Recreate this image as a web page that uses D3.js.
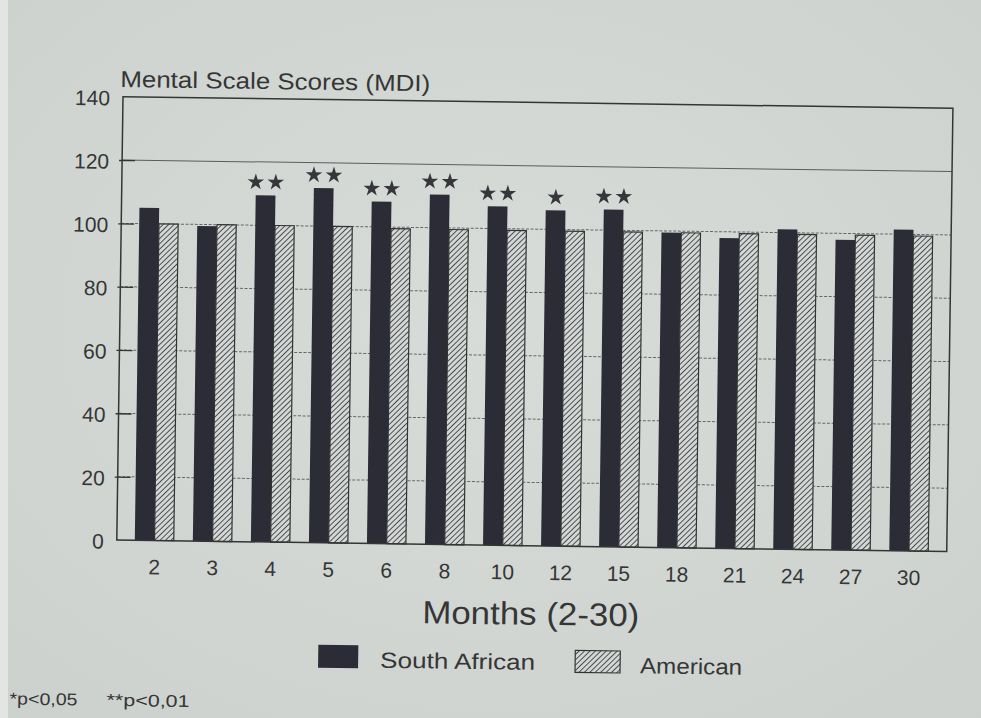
<!DOCTYPE html>
<html>
<head>
<meta charset="utf-8">
<script src="https://cdn.jsdelivr.net/npm/d3@7/dist/d3.min.js"></script>
<style>
  html, body { margin: 0; padding: 0; background: #d3d7d4; }
  svg { display: block; }
  text { font-family: "Liberation Sans", Arial, sans-serif; fill: #363636; }
</style>
</head>
<body>
<svg id="chart" width="981" height="718"></svg>
<script>
// Bayley Mental Scale scores (MDI) by age in months
const months = ["2", "3", "4", "5", "6", "8", "10", "12", "15", "18", "21", "24", "27", "30"];
const southAfrican = [105, 99.5, 109.5, 112, 108, 110.5, 107, 106, 106.5, 99.5, 98, 101, 98, 101.5];
const american = [100, 100, 100, 100, 99.5, 99.5, 99.5, 99.5, 99.5, 99.5, 99.5, 99.5, 99.5, 99.5];
const significance = ["", "", "**", "**", "**", "**", "**", "*", "**", "", "", "", "", ""];
const yTicks = [0, 20, 40, 60, 80, 100, 120, 140];
const seriesNames = ["South African", "American"];

const W = 981, H = 718;
const plot = { left: 123, right: 953, top: 96.7, bottom: 540 };

const svg = d3.select("#chart");

// paper background
const defs = svg.append("defs");
const bg = defs.append("radialGradient").attr("id", "paper")
  .attr("cx", "50%").attr("cy", "45%").attr("r", "75%");
bg.append("stop").attr("offset", "0%").attr("stop-color", "#d8dcd9");
bg.append("stop").attr("offset", "100%").attr("stop-color", "#ccd1ce");
svg.append("rect").attr("width", W).attr("height", H).attr("fill", "url(#paper)");
svg.append("rect").attr("width", 8).attr("height", H).attr("fill", "#e2e5e3");

// diagonal hatch for the American series
const hatch = defs.append("pattern").attr("id", "hatch")
  .attr("patternUnits", "userSpaceOnUse")
  .attr("width", 3.8).attr("height", 3.8)
  .attr("patternTransform", "rotate(45)");
hatch.append("rect").attr("width", 3.8).attr("height", 3.8).attr("fill", "#d3d7d5");
hatch.append("line").attr("x1", 0).attr("y1", 0).attr("x2", 0).attr("y2", 3.8)
  .attr("stroke", "#38383c").attr("stroke-width", 1.7);

// the printed page sits slightly tilted
const g = svg.append("g").attr("transform", `rotate(0.8, ${plot.left}, ${plot.top})`);

const x0 = d3.scaleBand().domain(months)
  .range([plot.left, plot.right]).paddingInner(0.32).paddingOuter(0.31);
const x1 = d3.scaleBand().domain(seriesNames).range([0, x0.bandwidth()]);
const y = d3.scaleLinear().domain([0, 140]).range([plot.bottom, plot.top]);

// gridlines
g.append("g").selectAll("line")
  .data(yTicks.filter(t => t > 0 && t < 140))
  .join("line")
  .attr("x1", plot.left).attr("x2", plot.right)
  .attr("y1", d => y(d)).attr("y2", d => y(d))
  .attr("stroke", d => d === 120 ? "#5c5c5c" : "#666")
  .attr("stroke-width", 1)
  .attr("stroke-dasharray", d => d === 120 ? null : "3,1.6");

// y axis with inward ticks
const yAxis = g.append("g").attr("transform", `translate(${plot.left},0)`)
  .call(d3.axisLeft(y).tickValues(yTicks).tickSizeInner(-13).tickSizeOuter(0).tickPadding(13));
yAxis.select(".domain").remove();
yAxis.selectAll(".tick line").attr("x1", -3).attr("stroke", "#333").attr("stroke-width", 1.3)
  .filter(d => d === 0 || d === 140).remove();
yAxis.selectAll(".tick text").attr("font-size", 21).attr("fill", "#3a3a3a")
  .attr("font-family", "'Liberation Sans', Arial, sans-serif").attr("dy", "0.4em");

// bars
const groups = g.append("g").selectAll("g")
  .data(months.map((m, i) => ({ m, sa: southAfrican[i], am: american[i], sig: significance[i] })))
  .join("g")
  .attr("transform", d => `translate(${x0(d.m)},0)`);

groups.append("rect")
  .attr("x", x1("South African")).attr("width", x1.bandwidth())
  .attr("y", d => y(d.sa)).attr("height", d => y(0) - y(d.sa))
  .attr("fill", "#2b2c35");

groups.append("rect")
  .attr("x", x1("American")).attr("width", x1.bandwidth() - 0.5)
  .attr("y", d => y(d.am)).attr("height", d => y(0) - y(d.am))
  .attr("fill", "url(#hatch)").attr("stroke", "#333").attr("stroke-width", 1.2);

// significance stars over the South African bars
const star = d3.symbol().type(d3.symbolStar).size(85);
groups.each(function (d) {
  const n = d.sig.length;
  const cx = x1("South African") + x1.bandwidth() / 2;
  for (let k = 0; k < n; k++) {
    const dx = n === 2 ? (k === 0 ? -10 : 10) : 0;
    d3.select(this).append("path")
      .attr("d", star)
      .attr("transform", `translate(${cx + dx},${y(d.sa) - 13})`)
      .attr("fill", "#37373b");
  }
});

// frame
g.append("rect")
  .attr("x", plot.left).attr("y", plot.top)
  .attr("width", plot.right - plot.left).attr("height", plot.bottom - plot.top)
  .attr("fill", "none").attr("stroke", "#353535").attr("stroke-width", 1.5);

// x axis labels
const xAxis = g.append("g").attr("transform", `translate(0,${plot.bottom})`)
  .call(d3.axisBottom(x0).tickSize(0).tickPadding(19));
xAxis.select(".domain").remove();
xAxis.selectAll(".tick text").attr("font-size", 21).attr("fill", "#3a3a3a")
  .attr("font-family", "'Liberation Sans', Arial, sans-serif");

// titles
g.append("text").attr("x", 120).attr("y", 87)
  .attr("font-size", 23).attr("textLength", 310).attr("lengthAdjust", "spacingAndGlyphs")
  .text("Mental Scale Scores (MDI)");

g.append("text").attr("x", (plot.left + plot.right) / 2).attr("y", 619)
  .attr("text-anchor", "middle").attr("font-size", 32)
  .attr("textLength", 217).attr("lengthAdjust", "spacingAndGlyphs")
  .text("Months (2-30)");

// legend
const legend = g.append("g");
legend.append("rect").attr("x", 326).attr("y", 642).attr("width", 40).attr("height", 23)
  .attr("fill", "#2b2c35");
legend.append("text").attr("x", 388).attr("y", 664).attr("font-size", 22)
  .attr("textLength", 155).attr("lengthAdjust", "spacingAndGlyphs").text(seriesNames[0]);
legend.append("rect").attr("x", 583).attr("y", 644).attr("width", 45).attr("height", 22)
  .attr("fill", "url(#hatch)").attr("stroke", "#333").attr("stroke-width", 1.2);
legend.append("text").attr("x", 648).attr("y", 666).attr("font-size", 22)
  .attr("textLength", 102).attr("lengthAdjust", "spacingAndGlyphs").text(seriesNames[1]);

// significance note
g.append("text").attr("x", 18).attr("y", 706).attr("font-size", 17)
  .attr("textLength", 68).attr("lengthAdjust", "spacingAndGlyphs").text("*p<0,05");
g.append("text").attr("x", 115).attr("y", 706).attr("font-size", 17)
  .attr("textLength", 83).attr("lengthAdjust", "spacingAndGlyphs").text("**p<0,01");
</script>
</body>
</html>
